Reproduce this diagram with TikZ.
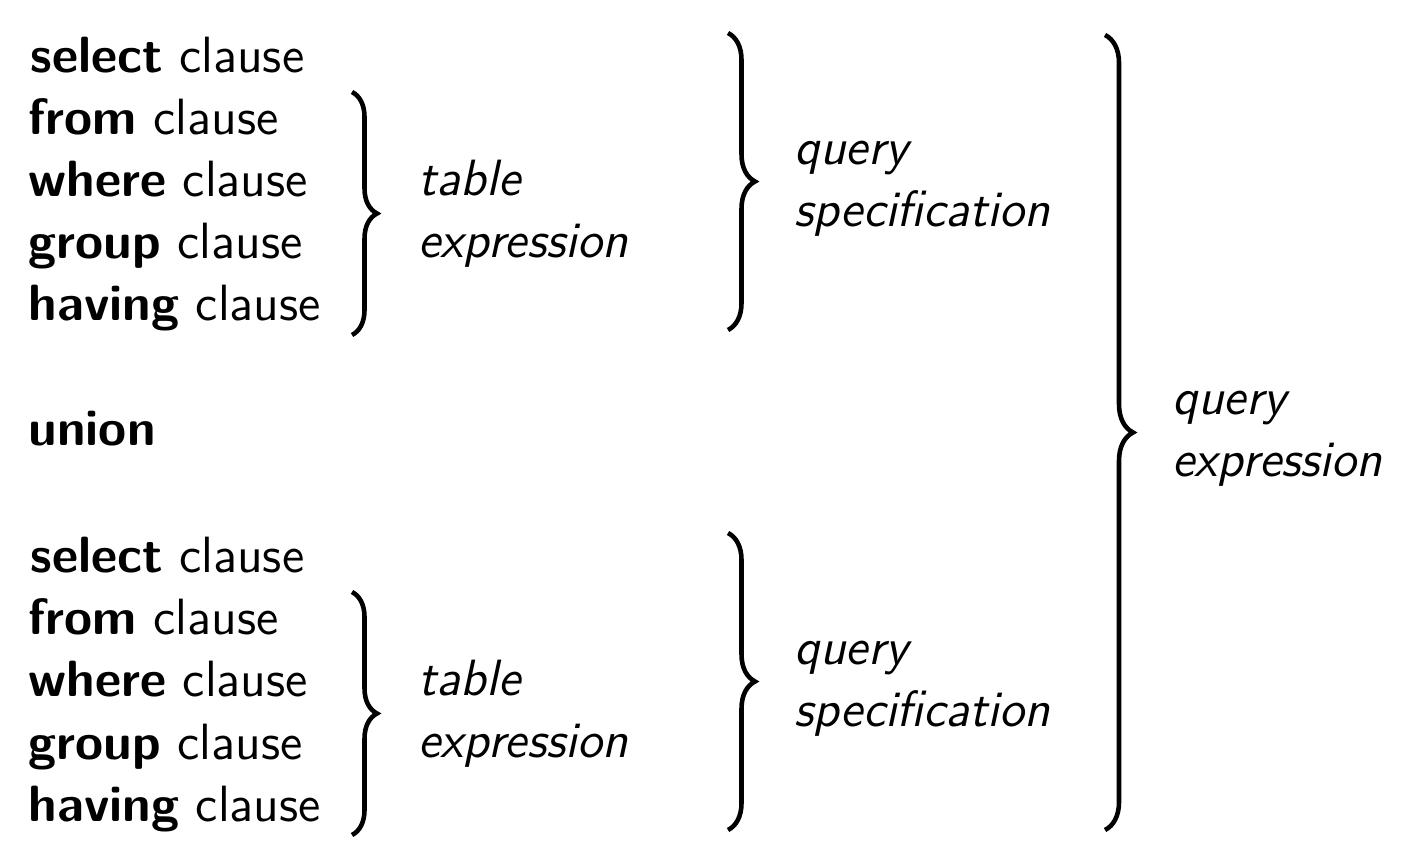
\documentclass[tikz,border=0pt]{standalone}
\usetikzlibrary{decorations.pathreplacing}

\tikzset{
  clause/.style={anchor=base west, inner sep=0pt, font=\sffamily\fontsize{14.5}{17.6}\selectfont},
  label/.style={anchor=base west, inner sep=0pt, font=\sffamily\itshape\fontsize{14.5}{17.6}\selectfont},
  curly/.style={decorate, decoration={brace, amplitude=#1}, line width=1.3pt}
}

\begin{document}
\begin{tikzpicture}[x=0.01cm, y=-0.01cm]
  \useasboundingbox (0,0) rectangle (1401,865);

  % the two blocks of clauses, union between them
  \foreach \blk/\dy in {a/0, b/500} {
    \node[clause] (sel\blk) at (30,\dy+73) {\textbf{select} clause};
    \node[clause] (frm\blk) at (28,\dy+135) {\textbf{from} clause};
    \node[clause] (whr\blk) at (28,\dy+197) {\textbf{where} clause};
    \node[clause] (grp\blk) at (28,\dy+259) {\textbf{group} clause};
    \node[clause] (hav\blk) at (28,\dy+321) {\textbf{having} clause};

    % table expression
    \draw[curly=0.25cm] (352,\dy+92) -- (352,\dy+335);
    \node[label] (tab\blk) at (418,\dy+196) {table};
    \node[label] (tex\blk) at (418,\dy+258) {expression};

    % query specification
    \draw[curly=0.27cm] (728,\dy+33) -- (728,\dy+330);
    \node[label] (qry\blk) at (794,\dy+165) {query};
    \node[label] (spc\blk) at (794,\dy+227) {specification};
  }

  \node[clause] (union) at (28,446) {\textbf{union}};

  % query expression
  \draw[curly=0.28cm] (1105,35) -- (1105,830);
  \node[label] (qexp) at (1172,415) {query};
  \node[label] (qexp2) at (1172,477) {expression};

\end{tikzpicture}
\end{document}
